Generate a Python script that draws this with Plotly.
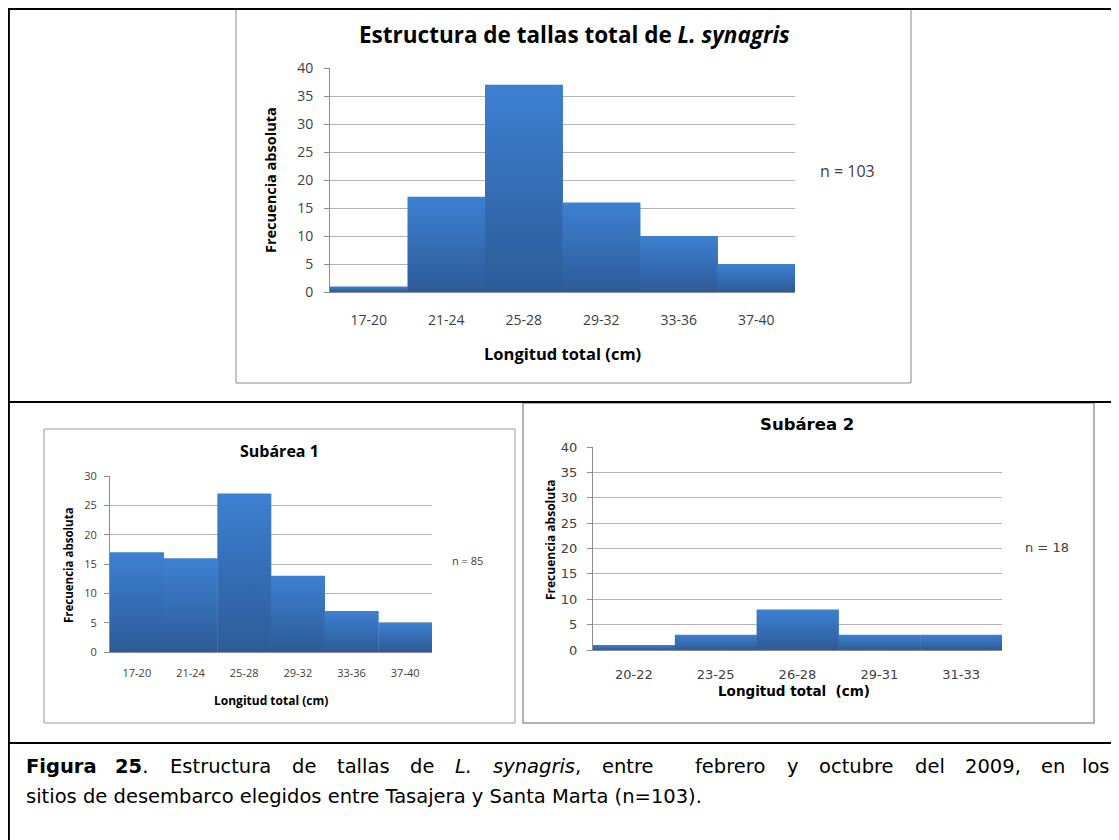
import plotly.graph_objects as go

W, H = 1119, 840
OFF = 8  # page body margin of the written html

# ---------------- data ----------------
total_cats = ["17-20", "21-24", "25-28", "29-32", "33-36", "37-40"]
total_vals = [1, 17, 37, 16, 10, 5]

sub1_cats = ["17-20", "21-24", "25-28", "29-32", "33-36", "37-40"]
sub1_vals = [17, 16, 27, 13, 7, 5]

sub2_cats = ["20-22", "23-25", "26-28", "29-31", "31-33"]
sub2_vals = [1, 3, 8, 3, 3]

total_title = "Estructura de tallas total de <i>L. synagris</i>"
sub1_title = "Subárea 1"
sub2_title = "Subárea 2"
y_title = "Frecuencia absoluta"
x_title = "Longitud total (cm)"
x_title2 = "Longitud total  (cm)"
n_total, n_sub1, n_sub2 = "n = 103", "n = 85", "n = 18"

caption_line1 = [[("Figura", "b")], [("25", "b"), (".", "")], [("Estructura", "")], [("de", "")],
                 [("tallas", "")], [("de", "")], [("L.", "i")], [("synagris", "i"), (",", "")],
                 [("entre", "")], [("febrero", "")], [("y", "")], [("octubre", "")], [("del", "")],
                 [("2009,", "")], [("en", "")], [("los", "")]]
caption_line2 = "sitios de desembarco elegidos entre Tasajera y Santa Marta (n=103)."

# ---------------- helpers ----------------
def px(x):
    return (x - OFF) / W

def py(y):
    return 1 - (y - OFF) / H

BAR_TOP = "#3d80d2"
BAR_BOT = "#2d5b97"
GRID = "#b4b4b4"
AX = "#8c8c8c"
TXT = "#404040"
CHART_FONT = "Open Sans, Lato, sans-serif"
VERD = "DejaVu Sans, Verdana, sans-serif"
SEAM = 0.006  # tiny overlap so neighbouring columns show no anti-alias seam

fig = go.Figure()

def add_bars(cats, vals, xa, ya):
    # one filled column per category, centred on its index, with a vertical gradient
    for i, v in enumerate(vals):
        fig.add_trace(go.Scatter(
            x=[i - 0.5, i - 0.5, i + 0.5 + SEAM, i + 0.5 + SEAM, i - 0.5],
            y=[0, v, v, 0, 0],
            mode="lines", line=dict(width=0, color=BAR_TOP),
            fill="toself",
            fillgradient=dict(type="vertical", colorscale=[[0, BAR_BOT], [1, BAR_TOP]]),
            xaxis=xa, yaxis=ya, showlegend=False, hoverinfo="skip"))

add_bars(total_cats, total_vals, "x", "y")
add_bars(sub1_cats, sub1_vals, "x2", "y2")
add_bars(sub2_cats, sub2_vals, "x3", "y3")

def xax(dom, anchor, cats, fsize, family, standoff):
    return dict(domain=[px(dom[0]), px(dom[1])], anchor=anchor, showgrid=False,
                range=[-0.5, len(cats) - 0.5], tickmode="array",
                tickvals=list(range(len(cats))), ticktext=cats, zeroline=False,
                showline=True, linecolor=AX, linewidth=1, ticks="", automargin=False,
                tickfont=dict(size=fsize, family=family, color=TXT),
                ticklabelstandoff=standoff, fixedrange=True)

def yax(dom, anchor, rng, fsize, family, standoff):
    return dict(domain=[py(dom[0]), py(dom[1])], anchor=anchor, range=rng,
                dtick=5, tick0=0, showgrid=True, gridcolor=GRID, gridwidth=1,
                zeroline=False, showline=True, linecolor=AX, linewidth=1,
                ticks="outside", ticklen=5, tickcolor=AX, automargin=False,
                tickfont=dict(size=fsize, family=family, color=TXT),
                ticklabelstandoff=standoff, fixedrange=True)

fig.update_layout(
    width=W, height=H,
    margin=dict(l=0, r=0, t=0, b=0, autoexpand=False),
    paper_bgcolor="white", plot_bgcolor="white",
    xaxis=xax((330, 795), "y", total_cats, 14, CHART_FONT, 15),
    yaxis=yax((292, 68), "x", [0, 40], 14, CHART_FONT, 8),
    xaxis2=xax((110, 432), "y2", sub1_cats, 11, CHART_FONT, 11),
    yaxis2=yax((652, 476), "x2", [0, 30], 11, CHART_FONT, 5),
    xaxis3=xax((593, 1002), "y3", sub2_cats, 13, VERD, 12),
    yaxis3=yax((650, 447), "x3", [0, 40], 13, VERD, 7),
)

shapes = []
# chart frames (gray)
for (x0, y0, x1, y1, w, c) in [(236, 9, 911, 383, 1, "#8a8a8a"),
                               (44, 429, 515, 723, 1, "#9a9a9a"),
                               (523, 403, 1094, 723, 1.5, "#9a9a9a")]:
    shapes.append(dict(type="rect", xref="paper", yref="paper",
                       x0=px(x0), x1=px(x1), y0=py(y1), y1=py(y0),
                       line=dict(color=c, width=w), fillcolor="rgba(0,0,0,0)", layer="above"))
# table lines (black)
for (x0, y0, x1, y1) in [(8, 8.8, 1130, 8.8), (8.8, 8, 8.8, 850), (8, 402, 1130, 402), (8, 743, 1130, 743)]:
    shapes.append(dict(type="line", xref="paper", yref="paper",
                       x0=px(x0), x1=px(x1), y0=py(y0), y1=py(y1),
                       line=dict(color="black", width=2.2), layer="above"))
fig.update_layout(shapes=shapes)

ann = []
def text(x, y, s, size, family, color="black", xanchor="center", angle=0, yanchor="middle"):
    ann.append(dict(x=px(x), y=py(y), xref="paper", yref="paper", text=s, showarrow=False,
                    xanchor=xanchor, yanchor=yanchor, textangle=angle,
                    font=dict(size=size, family=family, color=color)))

# top chart
text(574, 35, "<b>" + total_title + "</b>", 22.5, CHART_FONT)
text(271, 180, "<b>" + y_title + "</b>", 14.5, CHART_FONT, angle=-90)
text(562, 353, "<b>" + x_title + "</b>", 16.5, CHART_FONT)
text(818, 171, n_total, 16, CHART_FONT, color=TXT, xanchor="left")
# subarea 1
text(279, 451, "<b>" + sub1_title + "</b>", 16, CHART_FONT)
text(68, 565, "<b>" + y_title + "</b>", 11.5, CHART_FONT, angle=-90)
text(271, 700, "<b>" + x_title + "</b>", 12, CHART_FONT)
text(450, 560, n_sub1, 11, CHART_FONT, color=TXT, xanchor="left")
# subarea 2
text(807, 424, "<b>" + sub2_title + "</b>", 16.5, VERD)
text(550, 540, "<b>" + y_title + "</b>", 12, CHART_FONT, angle=-90)
text(794, 691, "<b>" + x_title2 + "</b>", 13.5, VERD)
text(1023, 547, n_sub2, 13, VERD, color=TXT, xanchor="left")

# ---------------- caption (justified first line) ----------------
CAP = "DejaVu Sans, Verdana, sans-serif"
CAP_SIZE = 19.5
ADV = {' ': 651, ',': 651, '.': 651, '-': 739, '(': 799, ')': 799, '=': 1716,
       'a': 1255, 'b': 1300, 'c': 1126, 'd': 1300, 'e': 1260, 'f': 721, 'g': 1300, 'h': 1298,
       'i': 569, 'j': 569, 'k': 1186, 'l': 569, 'm': 1995, 'n': 1298, 'o': 1253, 'p': 1300,
       'q': 1300, 'r': 842, 's': 1067, 't': 803, 'u': 1298, 'v': 1212, 'w': 1675, 'x': 1212,
       'y': 1212, 'z': 1075, 'E': 1294, 'F': 1178, 'L': 1141, 'M': 1767, 'S': 1300, 'T': 1251}

def seg_width(s, style):
    w = sum(ADV.get(ch, 1303) for ch in s) / 2048 * CAP_SIZE
    return w * (1.12 if style == "b" else 1.0)

def tok_width(tok):
    return sum(seg_width(s, st) for s, st in tok)

def tok_html(tok):
    out = ""
    for s, st in tok:
        out += f"<{st}>{s}</{st}>" if st else s
    return out

LEFT, RIGHT = 24, 1112
widths = [tok_width(t) for t in caption_line1]
n_spaces = len(caption_line1) - 1 + 1  # double space between "entre" and "febrero"
gap = (RIGHT - LEFT - sum(widths)) / n_spaces
x = LEFT
for i, tok in enumerate(caption_line1):
    if i == len(caption_line1) - 1:
        text(RIGHT, 766, tok_html(tok), CAP_SIZE, CAP, xanchor="right")
    else:
        text(x, 766, tok_html(tok), CAP_SIZE, CAP, xanchor="left")
    x += widths[i] + gap * (2 if tok_html(tok) == "entre" else 1)
text(LEFT, 796, caption_line2, CAP_SIZE, CAP, xanchor="left")

fig.update_layout(annotations=ann)
fig.write_html("out.html")
